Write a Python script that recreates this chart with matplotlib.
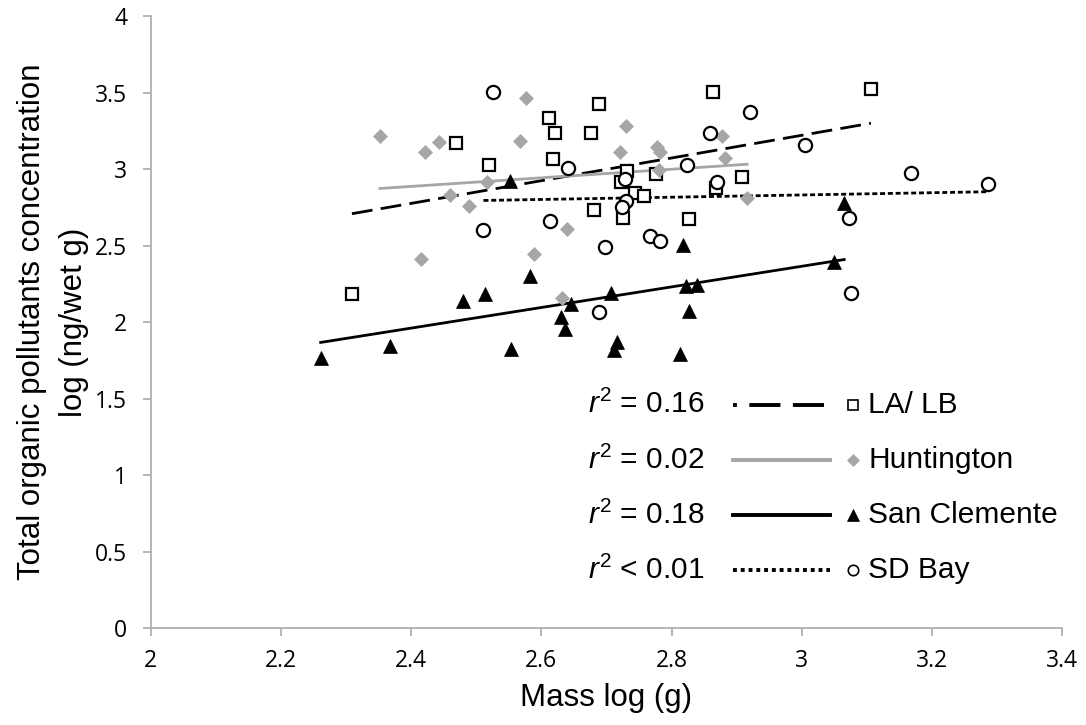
import numpy as np
import matplotlib
matplotlib.use('Agg')
from matplotlib import pyplot as plt
from matplotlib.ticker import FuncFormatter, MultipleLocator

# mass log (g) and concentration log (ng/wet g)
la_x = [2.309, 2.469, 2.520, 2.611, 2.621, 2.618, 2.689, 2.676, 2.732, 2.776,
        2.908, 2.722, 2.868, 2.743, 2.757, 2.680, 2.726, 2.826, 2.864, 3.106]
la_y = [2.182, 3.168, 3.027, 3.331, 3.233, 3.063, 3.423, 3.233, 2.987, 2.967,
        2.946, 2.917, 2.874, 2.845, 2.826, 2.732, 2.682, 2.673, 3.501, 3.523]

hb_x = [2.576, 2.352, 2.421, 2.442, 2.567, 2.517, 2.460, 2.489, 2.415, 2.589,
        2.730, 2.721, 2.777, 2.782, 2.781, 2.877, 2.882, 2.916, 2.640, 2.631]
hb_y = [3.466, 3.214, 3.109, 3.174, 3.185, 2.917, 2.830, 2.758, 2.410, 2.443,
        3.283, 3.113, 3.146, 3.111, 2.994, 3.216, 3.074, 2.813, 2.608, 2.155]

sc_x = [2.551, 2.583, 2.480, 2.514, 2.367, 2.261, 2.554, 2.818, 2.822, 2.839,
        2.826, 2.707, 2.645, 2.630, 2.636, 2.716, 2.711, 2.813, 3.065, 3.049]
sc_y = [2.924, 2.301, 2.140, 2.184, 1.846, 1.767, 1.822, 2.504, 2.236, 2.242,
        2.074, 2.188, 2.116, 2.035, 1.953, 1.868, 1.818, 1.792, 2.780, 2.395]

sd_x = [2.525, 2.511, 2.613, 2.921, 2.859, 2.641, 2.824, 2.729, 2.869, 2.730,
        2.724, 2.767, 2.782, 2.697, 2.689, 3.005, 3.168, 3.286, 3.073, 3.076]
sd_y = [3.501, 2.602, 2.662, 3.374, 3.237, 3.008, 3.026, 2.935, 2.917, 2.793,
        2.754, 2.564, 2.530, 2.492, 2.068, 3.157, 2.976, 2.900, 2.678, 2.188]

names = ['LA/ LB', 'Huntington', 'San Clemente', 'SD Bay']
r2_labels = ['= 0.16', '= 0.02', '= 0.18', '< 0.01']

plt.rcParams['mathtext.fontset'] = 'custom'
plt.rcParams['mathtext.rm'] = 'Liberation Sans'
plt.rcParams['mathtext.it'] = 'Liberation Sans:italic'

grey = '#a6a6a6'
styles = [
    dict(marker='s', ms=9, mfc='white', mec='black', mew=1.6),
    dict(marker='D', ms=7.5, mfc=grey, mec=grey, mew=0.5),
    dict(marker='^', ms=10.5, mfc='black', mec='black', mew=0.5),
    dict(marker='o', ms=9.5, mfc='white', mec='black', mew=1.6),
]
lines = [
    dict(color='black', lw=2.0, ls=(0, (7.5, 3))),
    dict(color=grey, lw=2.0, ls='-'),
    dict(color='black', lw=2.0, ls='-'),
    dict(color='black', lw=2.0, ls=(0, (1.8, 1.0))),
]

fig = plt.figure(figsize=(10.86, 7.25), dpi=100)
ax = fig.add_axes([0.1388, 0.1334, 0.8394, 0.8445])

series = [(la_x, la_y), (hb_x, hb_y), (sc_x, sc_y), (sd_x, sd_y)]
for (xs, ys), st, ln in zip(series, styles, lines):
    xs = np.array(xs)
    ys = np.array(ys)
    k, b = np.polyfit(xs, ys, 1)
    fx = np.array([xs.min(), xs.max()])
    ax.plot(fx, k * fx + b, zorder=2, **ln)
for (xs, ys), st in zip(series, styles):
    ax.plot(xs, ys, ls='none', zorder=3, **st)

ax.set_xlim(2, 3.4)
ax.set_ylim(0, 4)
ax.xaxis.set_major_locator(MultipleLocator(0.2))
ax.yaxis.set_major_locator(MultipleLocator(0.5))
fmt = FuncFormatter(lambda v, p: '%g' % round(v, 2))
ax.xaxis.set_major_formatter(fmt)
ax.yaxis.set_major_formatter(fmt)

for s in ['top', 'right']:
    ax.spines[s].set_visible(False)
for s in ['left', 'bottom']:
    ax.spines[s].set_color('#b0b0b0')
    ax.spines[s].set_linewidth(1.3)
ax.tick_params(axis='both', direction='out', length=6, width=1.3, color='#b0b0b0',
               labelsize=16.5)
ax.tick_params(axis='y', pad=11)
ax.tick_params(axis='x', pad=9)
for t in ax.get_xticklabels() + ax.get_yticklabels():
    t.set_fontfamily(['Open Sans', 'DejaVu Sans'])

ax.set_xlabel('Mass log (g)', fontsize=22.5, family='Liberation Sans')
ax.set_ylabel('Total organic pollutants concentration\nlog (ng/wet g)', fontsize=22.5,
              family='Liberation Sans', linespacing=1.5)
ax.xaxis.set_label_coords(0.5, -0.09)
ax.yaxis.set_label_coords(-0.068, 0.5)

# legend block drawn by hand, like the Excel one
rows = [0.365, 0.275, 0.185, 0.095]
leg_lines = [
    dict(color='black', lw=2.8, ls=(7, (8, 3.2))),
    dict(color=grey, lw=2.8, ls='-'),
    dict(color='black', lw=2.8, ls='-'),
    dict(color='black', lw=2.8, ls=(0, (1, 1))),
]
leg_marks = [
    dict(marker='s', ms=7, mfc='white', mec='black', mew=1.2),
    dict(marker='D', ms=6, mfc=grey, mec=grey, mew=0.5),
    dict(marker='^', ms=8, mfc='black', mec='black', mew=0.5),
    dict(marker='o', ms=7.5, mfc='white', mec='black', mew=1.2),
]
for yy, nm, r2, ll, mk in zip(rows, names, r2_labels, leg_lines, leg_marks):
    ax.text(0.48, yy, r'$\it{r}^2$ ' + r2, transform=ax.transAxes, fontsize=21.5,
            family='Liberation Sans', va='center', ha='left')
    ax.plot([0.639, 0.745], [yy, yy], transform=ax.transAxes, clip_on=False, **ll)
    ax.plot([0.770], [yy], transform=ax.transAxes, ls='none', clip_on=False, **mk)
    ax.text(0.787, yy, nm, transform=ax.transAxes, fontsize=21.5,
            family='Liberation Sans', va='center', ha='left')

plt.savefig('out.png', dpi=100)
